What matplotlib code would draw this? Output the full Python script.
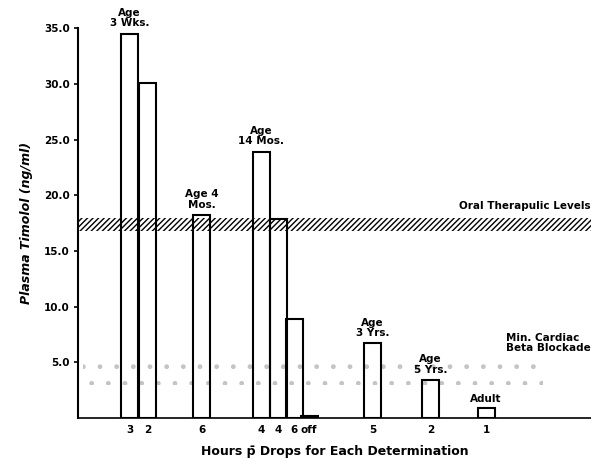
import matplotlib
matplotlib.use("Agg")
import matplotlib.pyplot as plt

# plasma timolol per determination (ng/ml)
hours = ["3", "2", "6", "4", "4", "6", "off", "5", "2", "1"]
timolol = [34.5, 30.1, 18.2, 23.9, 17.9, 8.9, 0.2, 6.7, 3.4, 0.9]

# age group labels, anchored on the first bar of each group
age_labels = ["Age\n3 Wks.", "Age 4\nMos.", "Age\n14 Mos.", "Age\n3 Yrs.",
              "Age\n5 Yrs.", "Adult"]
age_anchor = [0, 2, 3, 7, 8, 9]

oral_range = (16.8, 18.0)      # oral therapeutic levels
cardiac_range = (3.0, 5.0)     # min. cardiac beta blockade

# layout: bar centres along the axis (pixel-like units)
xpos = [51.5, 69.5, 123.5, 183, 200.5, 216, 231, 294.5, 352.5, 408]
width = 17

plt.rcParams["font.family"] = ["DejaVu Sans"]
fig = plt.figure(figsize=(5.91, 4.63), dpi=100)
ax = fig.add_axes([0.132, 0.097, 0.868, 0.842])

ax.bar(xpos, timolol, width=width, fill=False, edgecolor="black",
       linewidth=1.5, zorder=3)

ax.axhspan(*oral_range, facecolor="none", edgecolor="black", hatch="//////",
           linewidth=0, zorder=4)
ax.fill_between([5, 465], *cardiac_range, facecolor="none", edgecolor="#c4c4c4",
                hatch=".", linewidth=0, zorder=1)

txt = dict(fontsize=7.5, fontweight="bold", linespacing=1.05)
for lab, i in zip(age_labels, age_anchor):
    off = 4 if lab != "Adult" else 3
    ax.annotate(lab, (xpos[i], timolol[i]), xytext=(0, off),
                textcoords="offset points", ha="center", va="bottom",
                annotation_clip=False, **txt)
ax.text(513, 18.6, "Oral Therapulic Levels", ha="right", va="bottom", **txt)
ax.text(428, 5.8, "Min. Cardiac\nBeta Blockade", ha="left", va="bottom", **txt)

ax.set_xlim(0, 513)
ax.set_ylim(0, 35)
ax.set_yticks([5, 10, 15, 20, 25, 30, 35])
ax.set_yticklabels([f"{v:.1f}" for v in [5, 10, 15, 20, 25, 30, 35]],
                   fontsize=7.5, fontweight="bold")
ax.set_xticks(xpos)
ax.set_xticklabels(hours, fontsize=7.5, fontweight="bold")
ax.tick_params(axis="x", length=0, pad=5)
ax.tick_params(axis="y", length=3, width=1.2, pad=3)

for s in ["top", "right"]:
    ax.spines[s].set_visible(False)
ax.spines["left"].set_linewidth(1.5)
ax.spines["bottom"].set_linewidth(1.2)

ax.set_ylabel("Plasma Timolol (ng/ml)", fontsize=9, fontweight="bold",
              style="italic", labelpad=8)
ax.set_xlabel("Hours p\u0304 Drops for Each Determination", fontsize=9,
              fontweight="bold", labelpad=7)

fig.savefig("out.png", dpi=100)
